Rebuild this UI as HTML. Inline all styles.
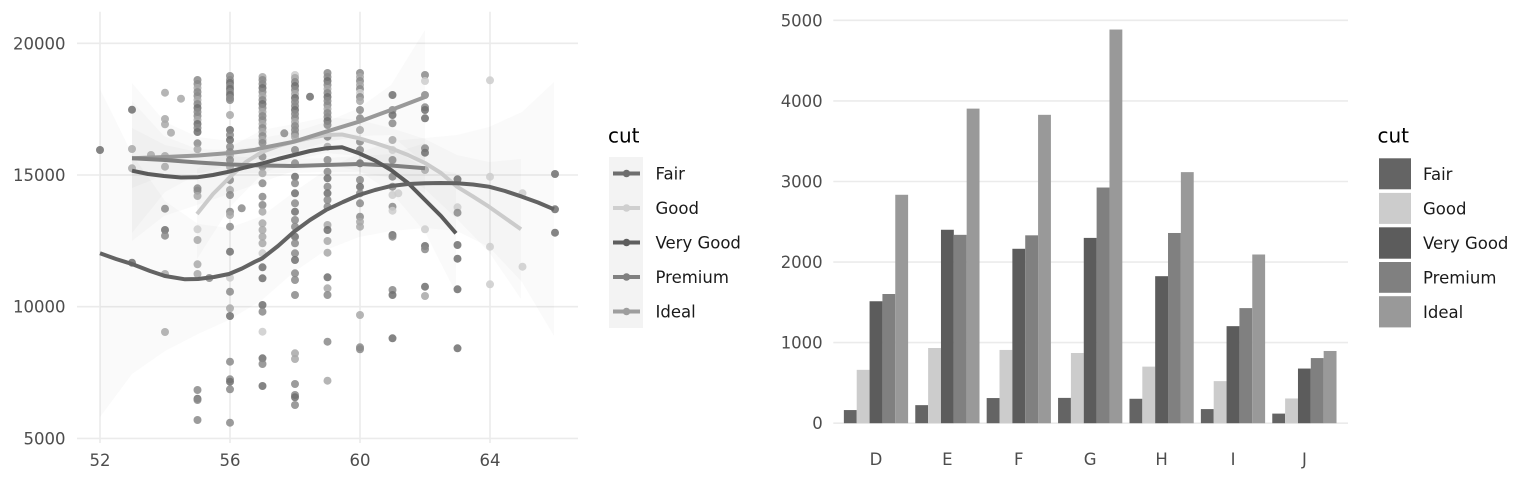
<!DOCTYPE html>
<html><head><meta charset="utf-8"><style>
html,body{margin:0;padding:0;background:#fff;}
svg{display:block;}
text{font-family:"DejaVu Sans","Liberation Sans",sans-serif;}
.tk{font-size:16.5px;fill:#4d4d4d;}
.lg{font-size:16.5px;fill:#1a1a1a;}
.tt{font-size:20px;fill:#000;}
.g{stroke:#ebebeb;stroke-width:1.6;}
.k{fill:#6e6e6e;}.m{fill:#8a8a8a;}.l{fill:#a8a8a8;}.w{fill:#cdcdcd;}
.pts circle{r:4px;opacity:0.85;}
.rib{fill:#888;opacity:0.045;}
.sm{fill:none;stroke-width:4;stroke-linejoin:round;}
</style></head><body>
<svg width="1536" height="480" viewBox="0 0 1536 480" xmlns="http://www.w3.org/2000/svg">
<rect width="1536" height="480" fill="#fff"/>
<!-- LEFT PANEL grid -->
<g class="g">
<line x1="77" y1="43.3" x2="578" y2="43.3"/>
<line x1="77" y1="175" x2="578" y2="175"/>
<line x1="77" y1="306.7" x2="578" y2="306.7"/>
<line x1="77" y1="438.4" x2="578" y2="438.4"/>
<line x1="100" y1="11.7" x2="100" y2="443"/>
<line x1="230" y1="11.7" x2="230" y2="443"/>
<line x1="360" y1="11.7" x2="360" y2="443"/>
<line x1="490" y1="11.7" x2="490" y2="443"/>
</g>
<!-- ribbons -->
<polygon class="rib" points="100,89 132,154 165,201 198,224 229,228 262,216 294,192 326,170 359,153 391,141 425,138 457,135 489,127 522,112 554,82 554,336 522,282 489,247 457,231 425,228 391,231 359,237 326,250 294,272 262,300 229,320 198,334 165,351 132,374 100,417"/>
<polygon class="rib" points="132,101 164,136 197,149 229,150 262,146 294,139 326,132 359,135 391,148 425,168 456,173 456,293 425,232 391,192 359,171 326,164 294,171 262,182 229,194 197,205 164,216 132,241"/>
<polygon class="rib" points="197,169 230,147 262,130 294,124 326,117 359,120 391,128 425,139 457,155 489,162 521,159 521,299 489,252 457,219 425,189 391,168 359,156 326,153 294,160 262,174 230,207 197,259"/>
<polygon class="rib" points="132,128 165,145 198,152 230,156 262,158 294,159 326,158 359,156 391,154 425,143 425,193 391,178 359,172 326,172 294,173 262,173 230,173 198,173 165,175 132,188"/>
<polygon class="rib" points="132,83 165,122 198,137 230,141 262,138 294,132 326,122 359,108 391,85 425,30 425,164 391,135 359,136 326,142 294,152 262,158 230,165 198,174 165,192 132,233"/>
<!-- points -->
<g class="pts">
<circle cx="100" cy="150" class="k"/>
<circle cx="132" cy="109.7" class="k"/><circle cx="132" cy="149" class="l"/><circle cx="132" cy="168.3" class="l"/><circle cx="132" cy="262.7" class="k"/>
<circle cx="151" cy="155" class="l"/>
<circle cx="165" cy="92.7" class="l"/><circle cx="165" cy="119" class="l"/><circle cx="165" cy="124.3" class="l"/><circle cx="165" cy="156" class="l"/><circle cx="165" cy="166.7" class="l"/><circle cx="165" cy="208.7" class="m"/><circle cx="165" cy="230" class="k"/><circle cx="165" cy="235.7" class="m"/><circle cx="165" cy="274" class="l"/><circle cx="165" cy="332" class="l"/>
<circle cx="171" cy="132.7" class="l"/><circle cx="181" cy="98.7" class="l"/>
<circle cx="197.5" cy="80" class="m"/><circle cx="197.5" cy="84" class="m"/><circle cx="197.5" cy="88" class="l"/><circle cx="197.5" cy="92" class="m"/><circle cx="197.5" cy="96" class="m"/><circle cx="197.5" cy="100" class="l"/><circle cx="197.5" cy="104" class="m"/><circle cx="197.5" cy="108" class="k"/><circle cx="197.5" cy="112" class="m"/><circle cx="197.5" cy="116" class="m"/><circle cx="197.5" cy="120" class="l"/><circle cx="197.5" cy="124" class="k"/><circle cx="197.5" cy="128" class="m"/><circle cx="197.5" cy="132" class="k"/>
<circle cx="197.5" cy="143.3" class="m"/><circle cx="197.5" cy="149.3" class="l"/><circle cx="197.5" cy="188.3" class="m"/><circle cx="197.5" cy="190.7" class="m"/><circle cx="197.5" cy="196" class="l"/><circle cx="197.5" cy="229.3" class="w"/><circle cx="197.5" cy="240" class="l"/><circle cx="197.5" cy="264.3" class="l"/><circle cx="197.5" cy="274" class="l"/><circle cx="197.5" cy="390" class="m"/><circle cx="197.5" cy="398.7" class="k"/><circle cx="197.5" cy="400" class="m"/><circle cx="197.5" cy="420" class="m"/>
<circle cx="209.3" cy="278" class="m"/>
<circle cx="230" cy="76" class="m"/><circle cx="230" cy="80" class="m"/><circle cx="230" cy="83" class="k"/><circle cx="230" cy="86" class="m"/><circle cx="230" cy="89" class="k"/><circle cx="230" cy="92" class="m"/><circle cx="230" cy="95" class="k"/><circle cx="230" cy="98" class="m"/><circle cx="230" cy="100" class="m"/>
<circle cx="230" cy="115" class="l"/><circle cx="230" cy="130" class="k"/><circle cx="230" cy="135" class="m"/><circle cx="230" cy="140" class="k"/><circle cx="230" cy="146.7" class="m"/><circle cx="230" cy="152" class="m"/><circle cx="230" cy="155" class="l"/><circle cx="230" cy="160" class="m"/><circle cx="230" cy="166.7" class="l"/><circle cx="230" cy="180" class="m"/><circle cx="230" cy="190" class="l"/><circle cx="230" cy="195" class="m"/><circle cx="230" cy="211.7" class="m"/><circle cx="230" cy="215" class="l"/><circle cx="230" cy="226.7" class="m"/><circle cx="230" cy="251.7" class="k"/><circle cx="230" cy="277.7" class="w"/><circle cx="230" cy="291.7" class="m"/><circle cx="230" cy="308.3" class="l"/><circle cx="230" cy="316" class="k"/><circle cx="230" cy="361.7" class="m"/><circle cx="230" cy="379.3" class="m"/><circle cx="230" cy="381.7" class="k"/><circle cx="230" cy="389.3" class="m"/><circle cx="230" cy="422.7" class="m"/>
<circle cx="241.7" cy="208.3" class="m"/>
<circle cx="262.5" cy="77" class="l"/><circle cx="262.5" cy="80" class="m"/><circle cx="262.5" cy="84" class="m"/><circle cx="262.5" cy="88" class="k"/><circle cx="262.5" cy="92" class="m"/><circle cx="262.5" cy="96" class="l"/><circle cx="262.5" cy="100" class="m"/><circle cx="262.5" cy="104" class="k"/><circle cx="262.5" cy="108" class="m"/><circle cx="262.5" cy="112" class="l"/><circle cx="262.5" cy="116" class="m"/><circle cx="262.5" cy="120" class="m"/><circle cx="262.5" cy="124" class="l"/><circle cx="262.5" cy="128" class="m"/><circle cx="262.5" cy="132" class="l"/><circle cx="262.5" cy="136" class="m"/><circle cx="262.5" cy="140" class="l"/><circle cx="262.5" cy="143" class="m"/>
<circle cx="262.5" cy="156.7" class="m"/><circle cx="262.5" cy="166.7" class="m"/><circle cx="262.5" cy="173.3" class="l"/><circle cx="262.5" cy="183.3" class="m"/><circle cx="262.5" cy="196.7" class="m"/><circle cx="262.5" cy="205" class="m"/><circle cx="262.5" cy="211.7" class="l"/><circle cx="262.5" cy="223.3" class="l"/><circle cx="262.5" cy="230" class="l"/><circle cx="262.5" cy="236.7" class="l"/><circle cx="262.5" cy="243.3" class="l"/><circle cx="262.5" cy="253.3" class="w"/><circle cx="262.5" cy="267.3" class="k"/><circle cx="262.5" cy="278.3" class="k"/><circle cx="262.5" cy="305" class="k"/><circle cx="262.5" cy="311.7" class="m"/><circle cx="262.5" cy="331.7" class="w"/><circle cx="262.5" cy="358.3" class="k"/><circle cx="262.5" cy="364" class="m"/><circle cx="262.5" cy="386" class="k"/>
<circle cx="284.3" cy="133.3" class="m"/>
<circle cx="295" cy="75" class="w"/><circle cx="295" cy="78" class="l"/><circle cx="295" cy="82" class="m"/><circle cx="295" cy="86" class="k"/><circle cx="295" cy="90" class="m"/><circle cx="295" cy="94" class="l"/><circle cx="295" cy="98" class="k"/><circle cx="295" cy="102" class="m"/><circle cx="295" cy="106" class="m"/><circle cx="295" cy="110" class="k"/><circle cx="295" cy="114" class="m"/><circle cx="295" cy="118" class="m"/><circle cx="295" cy="122" class="l"/><circle cx="295" cy="126" class="m"/><circle cx="295" cy="130" class="m"/><circle cx="295" cy="134" class="m"/><circle cx="295" cy="137" class="l"/>
<circle cx="295" cy="150" class="m"/><circle cx="295" cy="163.3" class="m"/><circle cx="295" cy="176.7" class="k"/><circle cx="295" cy="183.3" class="m"/><circle cx="295" cy="193.3" class="k"/><circle cx="295" cy="203.3" class="m"/><circle cx="295" cy="211.7" class="k"/><circle cx="295" cy="220" class="m"/><circle cx="295" cy="226.7" class="m"/><circle cx="295" cy="236.7" class="k"/><circle cx="295" cy="243.3" class="m"/><circle cx="295" cy="253.3" class="m"/><circle cx="295" cy="260" class="k"/><circle cx="295" cy="273.3" class="m"/><circle cx="295" cy="280" class="m"/><circle cx="295" cy="295" class="m"/><circle cx="295" cy="353.3" class="l"/><circle cx="295" cy="359" class="l"/><circle cx="295" cy="384" class="m"/><circle cx="295" cy="395" class="m"/><circle cx="295" cy="397.3" class="k"/><circle cx="295" cy="405" class="m"/>
<circle cx="310" cy="96.7" class="k"/>
<circle cx="327.5" cy="73" class="m"/><circle cx="327.5" cy="77" class="m"/><circle cx="327.5" cy="81" class="k"/><circle cx="327.5" cy="85" class="m"/><circle cx="327.5" cy="89" class="l"/><circle cx="327.5" cy="93" class="m"/><circle cx="327.5" cy="97" class="k"/><circle cx="327.5" cy="101" class="m"/><circle cx="327.5" cy="105" class="m"/><circle cx="327.5" cy="109" class="l"/><circle cx="327.5" cy="113" class="m"/><circle cx="327.5" cy="117" class="m"/><circle cx="327.5" cy="121" class="k"/><circle cx="327.5" cy="125" class="m"/>
<circle cx="327.5" cy="136.7" class="m"/><circle cx="327.5" cy="146.7" class="l"/><circle cx="327.5" cy="160" class="m"/><circle cx="327.5" cy="171.7" class="m"/><circle cx="327.5" cy="178.3" class="k"/><circle cx="327.5" cy="186.7" class="m"/><circle cx="327.5" cy="193.3" class="k"/><circle cx="327.5" cy="200" class="m"/><circle cx="327.5" cy="206.7" class="m"/><circle cx="327.5" cy="225" class="l"/><circle cx="327.5" cy="230" class="k"/><circle cx="327.5" cy="241" class="l"/><circle cx="327.5" cy="252.7" class="l"/><circle cx="327.5" cy="277.3" class="k"/><circle cx="327.5" cy="288.3" class="l"/><circle cx="327.5" cy="295" class="m"/><circle cx="327.5" cy="341.7" class="m"/><circle cx="327.5" cy="380.7" class="l"/>
<circle cx="360" cy="73" class="m"/><circle cx="360" cy="77" class="l"/><circle cx="360" cy="81" class="m"/><circle cx="360" cy="85" class="l"/><circle cx="360" cy="89" class="m"/><circle cx="360" cy="93" class="w"/><circle cx="360" cy="97" class="m"/><circle cx="360" cy="101" class="l"/>
<circle cx="360" cy="110" class="m"/><circle cx="360" cy="118.3" class="m"/><circle cx="360" cy="130" class="l"/><circle cx="360" cy="141.7" class="m"/><circle cx="360" cy="150" class="m"/><circle cx="360" cy="163.3" class="k"/><circle cx="360" cy="180" class="m"/><circle cx="360" cy="186.7" class="k"/><circle cx="360" cy="193.3" class="m"/><circle cx="360" cy="203.3" class="m"/><circle cx="360" cy="216.7" class="m"/><circle cx="360" cy="221.7" class="l"/><circle cx="360" cy="226.7" class="l"/><circle cx="360" cy="315" class="l"/><circle cx="360" cy="347.3" class="m"/><circle cx="360" cy="349.3" class="m"/>
<circle cx="392.5" cy="95" class="k"/><circle cx="392.5" cy="110" class="m"/><circle cx="392.5" cy="115" class="k"/><circle cx="392.5" cy="123.3" class="m"/><circle cx="392.5" cy="140" class="l"/><circle cx="392.5" cy="150" class="w"/><circle cx="392.5" cy="160" class="m"/><circle cx="392.5" cy="176.7" class="m"/><circle cx="392.5" cy="186.7" class="m"/><circle cx="392.5" cy="195" class="w"/><circle cx="392.5" cy="206.7" class="m"/><circle cx="392.5" cy="210.7" class="w"/><circle cx="392.5" cy="235" class="k"/><circle cx="392.5" cy="236.7" class="m"/><circle cx="392.5" cy="290" class="m"/><circle cx="392.5" cy="295" class="k"/><circle cx="392.5" cy="338.3" class="k"/>
<circle cx="398.3" cy="193.3" class="w"/>
<circle cx="425" cy="75" class="m"/><circle cx="425" cy="81" class="w"/><circle cx="425" cy="95" class="m"/><circle cx="425" cy="107.3" class="m"/><circle cx="425" cy="110" class="k"/><circle cx="425" cy="118.3" class="k"/><circle cx="425" cy="148.3" class="m"/><circle cx="425" cy="152.7" class="k"/><circle cx="425" cy="170" class="l"/><circle cx="425" cy="229.3" class="w"/><circle cx="425" cy="246" class="k"/><circle cx="425" cy="249.3" class="m"/><circle cx="425" cy="286.7" class="k"/><circle cx="425" cy="296" class="l"/>
<circle cx="457.5" cy="179.3" class="k"/><circle cx="457.5" cy="207.3" class="w"/><circle cx="457.5" cy="212.7" class="m"/><circle cx="457.5" cy="245" class="k"/><circle cx="457.5" cy="258.7" class="k"/><circle cx="457.5" cy="289.3" class="k"/><circle cx="457.5" cy="348.3" class="k"/>
<circle cx="490" cy="80.3" class="w"/><circle cx="490" cy="176.7" class="w"/><circle cx="490" cy="246.7" class="w"/><circle cx="490" cy="284.3" class="w"/>
<circle cx="522.5" cy="193.3" class="w"/><circle cx="522.5" cy="266.7" class="w"/>
<circle cx="555" cy="174" class="k"/><circle cx="555" cy="209.3" class="k"/><circle cx="555" cy="232.7" class="k"/>
</g>
<!-- smooth lines -->
<polyline class="sm" stroke="#cbcbcb" points="197,214 213,194 230,177 246,162 262,152 278,146 294,141.7 310,138 326,135 342,134.5 359,138.3 375,143 391,148.3 408,155 425,163 441,173 457,186.7 473,196.5 489,206.7 505,218 521,229.3"/>
<polyline class="sm" stroke="#999" points="132,158.3 165,157 198,155.5 230,153 255,149.8 262,148 294,141.7 326,131.7 359,121.7 391,110 425,97"/>
<polyline class="sm" stroke="#808080" points="132,158.3 165,160 198,162.5 230,164.5 262,165.5 294,166 326,165 359,164 391,165.5 425,168.3"/>
<polyline class="sm" stroke="#5a5a5a" points="132,170.7 148,174 164,176 181,177.5 197,177.3 213,175 229,171.7 245,167.5 262,163.5 278,159 294,155 310,151 326,148.3 342,147.3 359,153.3 375,160.5 391,170 408,183 425,200 441,216 456,233.3"/>
<polyline class="sm" stroke="#636363" points="100,253.3 116,259 132,264 150,271 165,276 185,279.3 198,279 214,277 229,274 242,268.5 255,261.7 262,258.5 278,246 294,231.7 310,220 326,210 343,202 359,195 375,190 391,186 408,184 425,183.3 441,183 457,183.3 473,184.5 489,186.7 505,191 522,196.7 538,202.5 554,209.3"/>
<!-- left axis labels -->
<g class="tk" text-anchor="end">
<text x="65.5" y="49.3">20000</text>
<text x="65.5" y="181">15000</text>
<text x="65.5" y="312.7">10000</text>
<text x="65.5" y="444.4">5000</text>
</g>
<g class="tk" text-anchor="middle">
<text x="100" y="466">52</text>
<text x="230" y="466">56</text>
<text x="360" y="466">60</text>
<text x="490" y="466">64</text>
</g>
<!-- left legend -->
<text class="tt" x="608" y="142.3">cut</text>
<rect x="609" y="157" width="34" height="171" fill="#f3f3f3"/>
<g stroke-width="4">
<line x1="613" y1="173.5" x2="640" y2="173.5" stroke="#6e6e6e"/>
<line x1="613" y1="208" x2="640" y2="208" stroke="#cfcfcf"/>
<line x1="613" y1="242.5" x2="640" y2="242.5" stroke="#5e5e5e"/>
<line x1="613" y1="277" x2="640" y2="277" stroke="#808080"/>
<line x1="613" y1="311.5" x2="640" y2="311.5" stroke="#9e9e9e"/>
</g>
<circle cx="626.5" cy="173.5" r="3.8" fill="#6e6e6e"/>
<circle cx="626.5" cy="208" r="3.8" fill="#cfcfcf"/>
<circle cx="626.5" cy="242.5" r="3.8" fill="#5e5e5e"/>
<circle cx="626.5" cy="277" r="3.8" fill="#808080"/>
<circle cx="626.5" cy="311.5" r="3.8" fill="#9e9e9e"/>
<g class="lg">
<text x="655.5" y="179.5">Fair</text>
<text x="655.5" y="214">Good</text>
<text x="655.5" y="248.5">Very Good</text>
<text x="655.5" y="283">Premium</text>
<text x="655.5" y="317.5">Ideal</text>
</g>
<!-- RIGHT PANEL grid -->
<g class="g">
<line x1="833.3" y1="20.3" x2="1348" y2="20.3"/>
<line x1="833.3" y1="100.9" x2="1348" y2="100.9"/>
<line x1="833.3" y1="181.5" x2="1348" y2="181.5"/>
<line x1="833.3" y1="262.1" x2="1348" y2="262.1"/>
<line x1="833.3" y1="342.6" x2="1348" y2="342.6"/>
<line x1="833.3" y1="423.2" x2="1348" y2="423.2"/>
</g>
<g transform="translate(0,423.2) scale(1,-0.0806)">
<g transform="translate(843.87,0)"><rect x="0" width="12.85" height="163" fill="#646464"/><rect x="12.85" width="12.85" height="662" fill="#cccccc"/><rect x="25.7" width="12.85" height="1513" fill="#5c5c5c"/><rect x="38.55" width="12.85" height="1603" fill="#808080"/><rect x="51.4" width="12.85" height="2834" fill="#999999"/></g>
<g transform="translate(915.27,0)"><rect x="0" width="12.85" height="224" fill="#646464"/><rect x="12.85" width="12.85" height="933" fill="#cccccc"/><rect x="25.7" width="12.85" height="2400" fill="#5c5c5c"/><rect x="38.55" width="12.85" height="2337" fill="#808080"/><rect x="51.4" width="12.85" height="3903" fill="#999999"/></g>
<g transform="translate(986.67,0)"><rect x="0" width="12.85" height="312" fill="#646464"/><rect x="12.85" width="12.85" height="909" fill="#cccccc"/><rect x="25.7" width="12.85" height="2164" fill="#5c5c5c"/><rect x="38.55" width="12.85" height="2331" fill="#808080"/><rect x="51.4" width="12.85" height="3826" fill="#999999"/></g>
<g transform="translate(1058.07,0)"><rect x="0" width="12.85" height="314" fill="#646464"/><rect x="12.85" width="12.85" height="871" fill="#cccccc"/><rect x="25.7" width="12.85" height="2299" fill="#5c5c5c"/><rect x="38.55" width="12.85" height="2924" fill="#808080"/><rect x="51.4" width="12.85" height="4884" fill="#999999"/></g>
<g transform="translate(1129.47,0)"><rect x="0" width="12.85" height="303" fill="#646464"/><rect x="12.85" width="12.85" height="702" fill="#cccccc"/><rect x="25.7" width="12.85" height="1824" fill="#5c5c5c"/><rect x="38.55" width="12.85" height="2360" fill="#808080"/><rect x="51.4" width="12.85" height="3115" fill="#999999"/></g>
<g transform="translate(1200.87,0)"><rect x="0" width="12.85" height="175" fill="#646464"/><rect x="12.85" width="12.85" height="522" fill="#cccccc"/><rect x="25.7" width="12.85" height="1204" fill="#5c5c5c"/><rect x="38.55" width="12.85" height="1428" fill="#808080"/><rect x="51.4" width="12.85" height="2093" fill="#999999"/></g>
<g transform="translate(1272.27,0)"><rect x="0" width="12.85" height="119" fill="#646464"/><rect x="12.85" width="12.85" height="307" fill="#cccccc"/><rect x="25.7" width="12.85" height="678" fill="#5c5c5c"/><rect x="38.55" width="12.85" height="808" fill="#808080"/><rect x="51.4" width="12.85" height="896" fill="#999999"/></g>
</g>
<g class="tk" text-anchor="end">
<text x="822.7" y="26.3">5000</text>
<text x="822.7" y="106.9">4000</text>
<text x="822.7" y="187.5">3000</text>
<text x="822.7" y="268.1">2000</text>
<text x="822.7" y="348.6">1000</text>
<text x="822.7" y="429.2">0</text>
</g>
<g class="tk" text-anchor="middle">
<text x="876" y="465">D</text>
<text x="947.4" y="465">E</text>
<text x="1018.8" y="465">F</text>
<text x="1090.2" y="465">G</text>
<text x="1161.6" y="465">H</text>
<text x="1233" y="465">I</text>
<text x="1304.4" y="465">J</text>
</g>
<!-- right legend -->
<text class="tt" x="1377.5" y="142.7">cut</text>
<rect x="1379" y="158.3" width="32" height="31" fill="#646464"/>
<rect x="1379" y="192.9" width="32" height="31" fill="#cccccc"/>
<rect x="1379" y="227.3" width="32" height="31.4" fill="#5c5c5c"/>
<rect x="1379" y="262" width="32" height="30.8" fill="#808080"/>
<rect x="1379" y="296.2" width="32" height="31.2" fill="#999999"/>
<g class="lg">
<text x="1423" y="179.8">Fair</text>
<text x="1423" y="214.3">Good</text>
<text x="1423" y="248.8">Very Good</text>
<text x="1423" y="283.3">Premium</text>
<text x="1423" y="317.8">Ideal</text>
</g>
</svg>
</body></html>
